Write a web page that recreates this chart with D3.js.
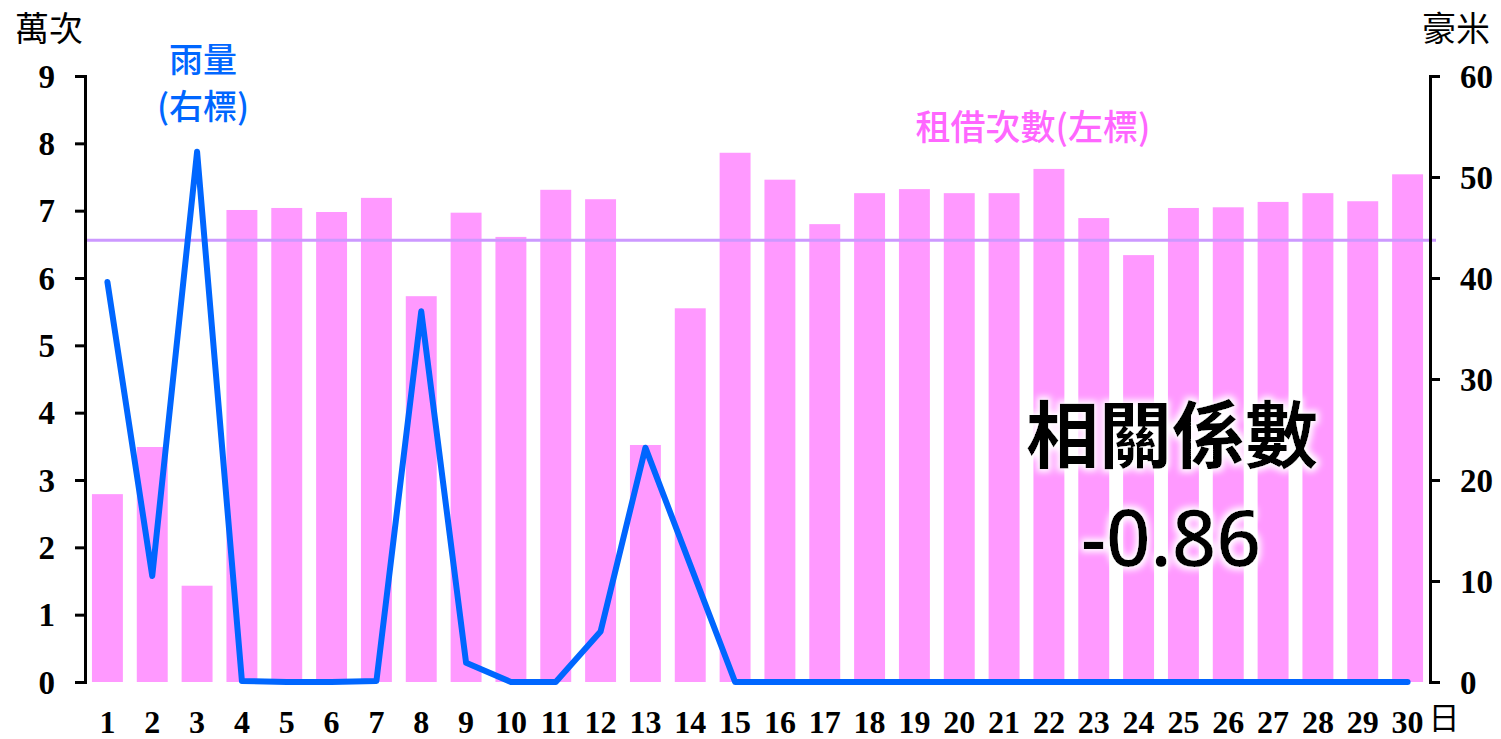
<!DOCTYPE html>
<html>
<head>
<meta charset="utf-8">
<script src="https://cdn.jsdelivr.net/npm/d3@7"></script>
<style>
  body { margin: 0; background: #fff; }
  .tick text { font-family: "Liberation Serif", "Times New Roman", serif; font-weight: bold; }
</style>
</head>
<body>
<div id="chart"></div>
<script>
// data
var days = d3.range(1, 31).map(String);
var rentals = [2.79, 3.49, 1.43, 7.01, 7.04, 6.98, 7.19, 5.73, 6.97, 6.61,
               7.31, 7.17, 3.52, 5.55, 7.86, 7.46, 6.80, 7.26, 7.32, 7.26,
               7.26, 7.62, 6.89, 6.34, 7.04, 7.05, 7.13, 7.26, 7.14, 7.54];
var rain = [39.6, 10.5, 52.5, 0.1, 0, 0, 0.1, 36.7, 1.9, 0,
            0, 5.0, 23.2, 11.6, 0, 0, 0, 0, 0, 0,
            0, 0, 0, 0, 0, 0, 0, 0, 0, 0];
var avgLine = 6.56;
var leftTicks = [0, 1, 2, 3, 4, 5, 6, 7, 8, 9];
var rightTicks = [0, 10, 20, 30, 40, 50, 60];
var corrValue = "-0.86";

var svgWidth = 1501, svgHeight = 739;
var margin = { top: 76, right: 71, bottom: 57, left: 85 };
var width = svgWidth - margin.left - margin.right;
var height = svgHeight - margin.top - margin.bottom;

var svg = d3.select("#chart").append("svg")
    .attr("width", svgWidth)
    .attr("height", svgHeight);

// glow for big text
var defs = svg.append("defs");
var glow = defs.append("filter").attr("id", "glow")
    .attr("x", "-20%").attr("y", "-20%").attr("width", "140%").attr("height", "140%");
glow.append("feMorphology").attr("in", "SourceAlpha").attr("operator", "dilate").attr("radius", 3).attr("result", "d");
glow.append("feGaussianBlur").attr("in", "d").attr("stdDeviation", 3).attr("result", "b");
glow.append("feFlood").attr("flood-color", "#fff");
glow.append("feComposite").attr("in2", "b").attr("operator", "in").attr("result", "w");
var merge = glow.append("feMerge");
merge.append("feMergeNode").attr("in", "w");
merge.append("feMergeNode").attr("in", "SourceGraphic");

var chartGroup = svg.append("g")
    .attr("transform", `translate(${margin.left}, ${margin.top})`);

// scales
var xScale = d3.scaleBand().domain(days).range([0, width]).paddingInner(0.31).paddingOuter(0.155);
var yLeft = d3.scaleLinear().domain([0, 9]).range([height, 0]);
var yRight = d3.scaleLinear().domain([0, 60]).range([height, 0]);

// bars
chartGroup.selectAll("rect.bar")
    .data(rentals)
    .enter()
    .append("rect")
    .attr("class", "bar")
    .attr("x", (d, i) => xScale(days[i]))
    .attr("y", d => yLeft(d))
    .attr("width", xScale.bandwidth())
    .attr("height", d => height - yLeft(d))
    .attr("fill", "#ff99ff");

// average line
chartGroup.append("line")
    .attr("x1", 0)
    .attr("x2", width + 6)
    .attr("y1", yLeft(avgLine))
    .attr("y2", yLeft(avgLine))
    .attr("stroke", "#cc99ff")
    .attr("stroke-width", 3);

// rain line
var line = d3.line()
    .x((d, i) => xScale(days[i]) + xScale.bandwidth() / 2)
    .y(d => yRight(d));

chartGroup.append("path")
    .datum(rain)
    .attr("d", line)
    .attr("fill", "none")
    .attr("stroke", "#0066ff")
    .attr("stroke-width", 6)
    .attr("stroke-linejoin", "round")
    .attr("stroke-linecap", "round");

// axes
var leftAxis = d3.axisLeft(yLeft).tickValues(leftTicks).tickSize(10).tickPadding(20);
var rightAxis = d3.axisRight(yRight).tickValues(rightTicks).tickSize(10).tickPadding(20);
var bottomAxis = d3.axisBottom(xScale).tickSize(0).tickPadding(28);

var gl = chartGroup.append("g").call(leftAxis);
var gr = chartGroup.append("g").attr("transform", `translate(${width}, 0)`).call(rightAxis);
var gb = chartGroup.append("g").attr("transform", `translate(0, ${height})`).call(bottomAxis);
gb.select(".domain").remove();

[gl, gr].forEach(function(g) {
  g.select(".domain").attr("stroke", "#000").attr("stroke-width", 3);
  g.selectAll(".tick line").attr("stroke", "#000").attr("stroke-width", 3);
});
gl.selectAll(".tick text").style("font-size", "33px").attr("fill", "#000").attr("dy", "0.34em");
gr.selectAll(".tick text").style("font-size", "33px").attr("fill", "#000").attr("dy", "0.34em");
gb.selectAll(".tick text").style("font-size", "32px").attr("fill", "#000");

// unit labels
svg.append("text").attr("x", 49).attr("y", 41).attr("text-anchor", "middle")
  .style("font-family", "'Noto Sans CJK TC', sans-serif").style("font-size", "34px")
  .text("萬次");
svg.append("text").attr("x", 1456).attr("y", 41).attr("text-anchor", "middle")
  .style("font-family", "'Noto Sans CJK TC', sans-serif").style("font-size", "34px")
  .text("豪米");
svg.append("text").attr("x", 1444).attr("y", 729).attr("text-anchor", "middle")
  .style("font-family", "'Noto Sans CJK TC', sans-serif").style("font-size", "31px")
  .text("日");

// series labels
svg.append("text").attr("x", 203).attr("y", 72).attr("text-anchor", "middle")
  .style("font-family", "'Noto Sans CJK TC', sans-serif").style("font-size", "34px")
  .style("font-weight", "500").attr("fill", "#0066ff").text("雨量");
svg.append("text").attr("x", 203).attr("y", 119).attr("text-anchor", "middle")
  .style("font-family", "'Noto Sans CJK TC', sans-serif").style("font-size", "34px")
  .style("font-weight", "500").attr("fill", "#0066ff").text("(右標)");
svg.append("text").attr("x", 1033).attr("y", 140).attr("text-anchor", "middle")
  .style("font-family", "'Noto Sans CJK TC', sans-serif").style("font-size", "35px")
  .style("font-weight", "500").attr("fill", "#ff66ff").text("租借次數(左標)");

// correlation
svg.append("text").attr("x", 1172).attr("y", 462).attr("text-anchor", "middle")
  .style("font-family", "'Noto Sans CJK TC', sans-serif").style("font-size", "73px")
  .style("font-weight", "bold").attr("filter", "url(#glow)")
  .text("相關係數");
svg.append("text").attr("x", 1171).attr("y", 566).attr("text-anchor", "middle")
  .style("font-family", "'Noto Sans', sans-serif").style("font-size", "78px")
  .style("font-weight", "500").attr("filter", "url(#glow)")
  .text(corrValue);
</script>
</body>
</html>
